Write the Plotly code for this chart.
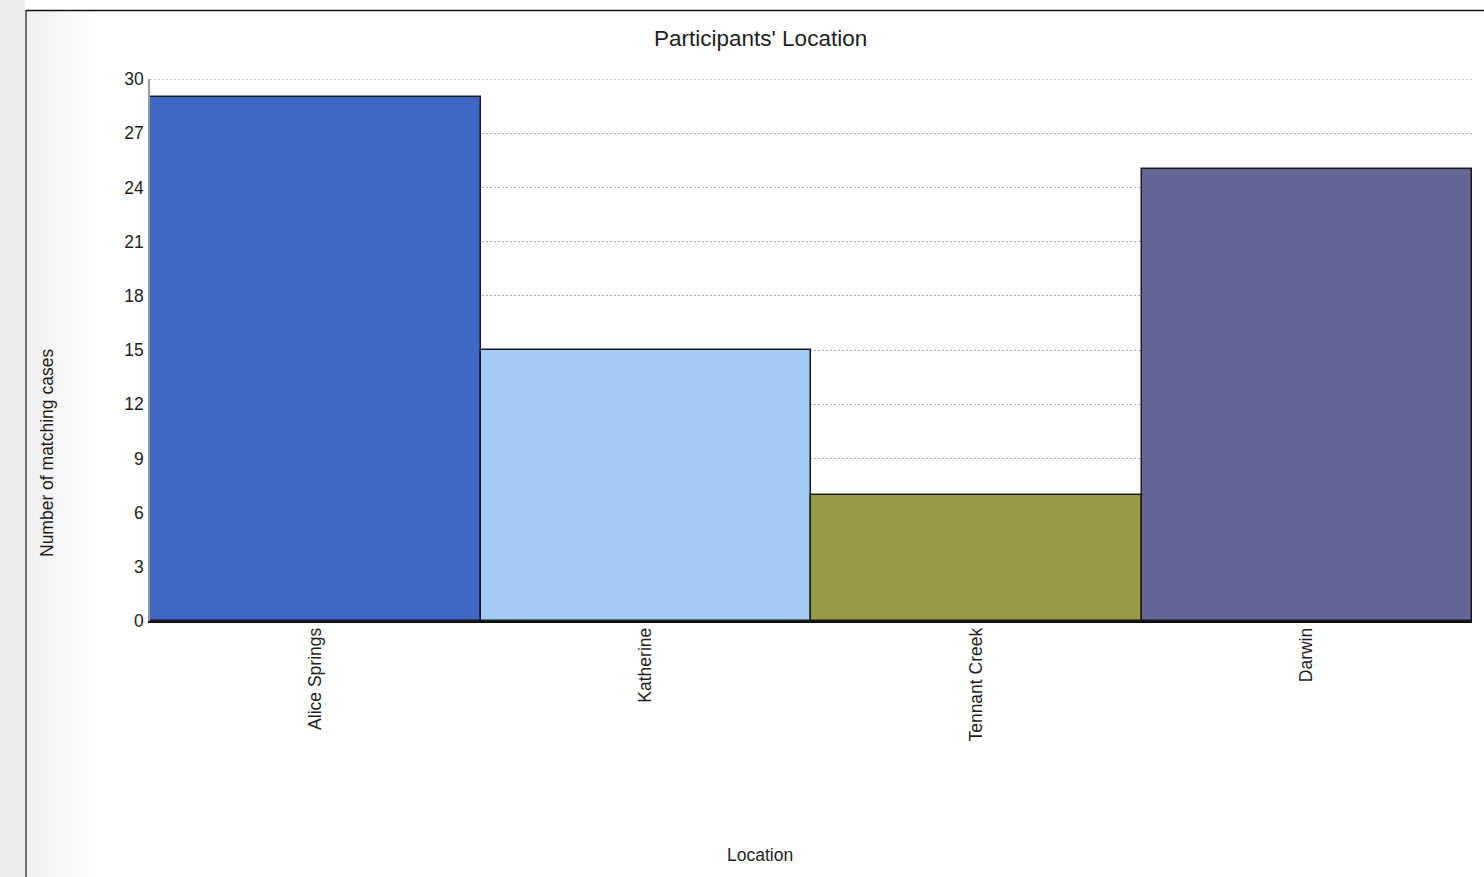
import plotly.graph_objects as go

# Survey data: participants per location
locations = ["Alice Springs", "Katherine", "Tennant Creek", "Darwin"]
counts = [29, 15, 7, 25]
bar_colors = ["#3f67c5", "#a3cbf6", "#999843", "#656695"]
y_ticks = [0, 3, 6, 9, 12, 15, 18, 21, 24, 27, 30]

W, H = 1484, 877
L, R, T, B = 150, 1472, 79, 621  # plot area in pixels
PW, PH = R - L, B - T


def px(x):
    return (x - L) / PW


def py(y):
    return (B - y) / PH


FONT = "Liberation Sans, Arial, sans-serif"
TXT = "#1e1e1e"
GRID_DASH = "2px,2px"

fig = go.Figure(
    go.Bar(
        x=locations,
        y=counts,
        width=1,
        marker=dict(color=bar_colors, line=dict(color="#1a1a1a", width=1.5)),
        hoverinfo="x+y",
    )
)

shapes = []
# grey strip on the far left
shapes.append(dict(type="rect", xref="paper", yref="paper",
                   x0=px(0), x1=px(25), y0=py(H), y1=py(0),
                   fillcolor="#ececec", line=dict(width=0), layer="below"))
# soft gradient from the frame edge into white
n = 37
for i in range(n):
    x0 = 27 + i * 2
    g = int(240 + (255 - 240) * i / (n - 1))
    shapes.append(dict(type="rect", xref="paper", yref="paper",
                       x0=px(x0), x1=px(x0 + 2), y0=py(H), y1=py(11),
                       fillcolor=f"rgb({g},{g},{g})", line=dict(width=0),
                       layer="below"))
# frame lines
shapes.append(dict(type="line", xref="paper", yref="paper",
                   x0=px(26), x1=px(26), y0=py(10), y1=py(H),
                   line=dict(color="#6e6e6e", width=2)))
shapes.append(dict(type="line", xref="paper", yref="paper",
                   x0=px(26), x1=px(W), y0=py(10.5), y1=py(10.5),
                   line=dict(color="#111111", width=1.5)))
# top gridline at the upper edge of the value range
shapes.append(dict(type="line", xref="paper", yref="y",
                   x0=0, x1=1, y0=y_ticks[-1], y1=y_ticks[-1],
                   line=dict(color="#aaaaaa", width=1, dash=GRID_DASH),
                   layer="below"))

annotations = [
    dict(text="Participants' Location", xref="paper", yref="paper",
         x=px(760), y=py(38), xanchor="center", yanchor="middle",
         showarrow=False, font=dict(family=FONT, size=22.5, color=TXT)),
    dict(text="Number of matching cases", xref="paper", yref="paper",
         x=px(47), y=py(453), xanchor="center", yanchor="middle",
         textangle=-90, showarrow=False,
         font=dict(family=FONT, size=17.5, color=TXT)),
    dict(text="Location", xref="paper", yref="paper",
         x=px(760), y=py(855), xanchor="center", yanchor="middle",
         showarrow=False, font=dict(family=FONT, size=17.5, color=TXT)),
]

fig.update_layout(
    width=W,
    height=H,
    margin=dict(l=L, r=W - R, t=T, b=H - B, pad=0),
    paper_bgcolor="white",
    plot_bgcolor="white",
    bargap=0,
    showlegend=False,
    shapes=shapes,
    annotations=annotations,
    font=dict(family=FONT, size=17.5, color=TXT),
)

fig.update_xaxes(
    type="category",
    range=[-0.5, 3.5],
    tickangle=-90,
    tickfont=dict(family=FONT, size=17.5, color=TXT),
    showline=True,
    linecolor="#111111",
    linewidth=1.5,
    showgrid=False,
    ticks="",
    ticklabelstandoff=-2,
    fixedrange=True,
)

fig.update_yaxes(
    range=[0, 30],
    tickvals=y_ticks,
    tickfont=dict(family=FONT, size=17.5, color=TXT),
    showline=True,
    linecolor="#999999",
    linewidth=1.5,
    showgrid=True,
    gridcolor="#aaaaaa",
    griddash=GRID_DASH,
    gridwidth=1,
    zeroline=False,
    ticks="",
    ticklabelstandoff=1,
    fixedrange=True,
)

fig.write_html("out.html", config={"displayModeBar": False})
